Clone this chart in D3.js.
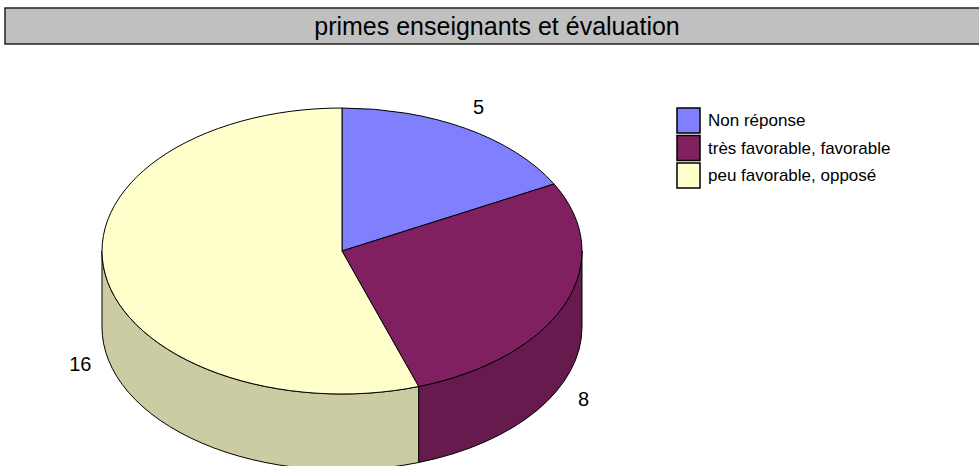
<!DOCTYPE html>
<html>
<head>
<meta charset="utf-8">
<script src="https://cdn.jsdelivr.net/npm/d3@7"></script>
<style>
  body { margin: 0; background: #fff; }
  text { font-family: "Liberation Sans", Arial, sans-serif; }
</style>
</head>
<body>
<div id="graph"></div>
<script>
var titre = "primes enseignants et évaluation";
var categories = ["Non réponse", "très favorable, favorable", "peu favorable, opposé"];
var valeurs = [5, 8, 16];
var couleurs = ["#8080FF", "#802060", "#FFFFCC"];
var couleursCote = ["#6666CC", "#661A4D", "#CCCCA3"];

function dessinCamembert() {
    "use strict";
    var width = 979, height = 466,
        cx = 342, cy = 251, rx = 240, ry = 143, epaisseur = 76,

        svg = d3.select("#graph")
            .append("svg")
                .attr("width", width)
                .attr("height", height),

        couleur = d3.scaleOrdinal().domain(categories).range(couleurs),
        couleurCote = d3.scaleOrdinal().domain(categories).range(couleursCote),

        donnees = categories.map(function (c, i) { return {nom: c, valeur: valeurs[i]}; }),
        parts = d3.pie()
            .sort(null)
            .value(function (d) { return d.valeur; })(donnees);

    function pt(a, dy) {
        return [cx + rx * Math.sin(a), cy - ry * Math.cos(a) + (dy || 0)];
    }

    function dessus(d) {
        var p0 = pt(d.startAngle), p1 = pt(d.endAngle),
            grand = (d.endAngle - d.startAngle) > Math.PI ? 1 : 0;
        return "M" + cx + "," + cy + "L" + p0 + "A" + rx + "," + ry + " 0 " + grand + " 1 " + p1 + "Z";
    }

    function cote(d) {
        var s = Math.max(d.startAngle, Math.PI / 2),
            e = Math.min(d.endAngle, 3 * Math.PI / 2);
        if (s >= e) { return null; }
        return "M" + pt(s) + "A" + rx + "," + ry + " 0 0 1 " + pt(e) +
            "L" + pt(e, epaisseur) + "A" + rx + "," + ry + " 0 0 0 " + pt(s, epaisseur) + "Z";
    }

    // bandeau du titre
    svg.append("rect")
        .attr("x", 5)
        .attr("y", 8)
        .attr("width", 990)
        .attr("height", 36)
        .style("fill", "#C0C0C0")
        .style("stroke", "#222")
        .style("stroke-width", 1.5);
    svg.append("text")
        .attr("x", 497)
        .attr("y", 35)
        .style("text-anchor", "middle")
        .style("font-size", "25px")
        .style("fill", "#000")
        .text(titre);

    // côtés
    svg.selectAll(".cote")
        .data(parts.filter(function (d) { return cote(d) !== null; }))
        .enter()
        .append("path")
        .attr("d", cote)
        .style("fill", function (d) { return couleurCote(d.data.nom); })
        .style("stroke", "#000")
        .style("stroke-width", 1);

    // dessus
    svg.selectAll(".dessus")
        .data(parts)
        .enter()
        .append("path")
        .attr("d", dessus)
        .style("fill", function (d) { return couleur(d.data.nom); })
        .style("stroke", "#000")
        .style("stroke-width", 1)
        .style("stroke-linejoin", "round");

    // étiquettes
    svg.selectAll(".etiquette")
        .data(parts)
        .enter()
        .append("text")
        .attr("x", function (d) {
            var a = (d.startAngle + d.endAngle) / 2,
                demi = 5.5 * String(d.data.valeur).length;
            return cx + (rx + 14) * Math.sin(a) + (Math.sin(a) < 0 ? -demi : demi);
        })
        .attr("y", function (d) {
            var a = (d.startAngle + d.endAngle) / 2,
                y = cy - (ry + 25) * Math.cos(a);
            if (Math.cos(a) < 0) { y += epaisseur + 10; }
            return y + 7;
        })
        .style("text-anchor", "middle")
        .style("font-size", "20px")
        .style("fill", "#000")
        .text(function (d) { return d.data.valeur; });

    // légende
    var legende = svg.selectAll(".legende")
        .data(categories)
        .enter()
        .append("g")
        .attr("transform", function (d, i) { return "translate(677," + (108 + i * 27.5) + ")"; });
    legende.append("rect")
        .attr("width", 23)
        .attr("height", 25)
        .style("fill", function (d) { return couleur(d); })
        .style("stroke", "#000")
        .style("stroke-width", 1.5);
    legende.append("text")
        .attr("x", 31)
        .attr("y", 18)
        .style("font-size", "17px")
        .style("fill", "#000")
        .text(function (d) { return d; });
}

dessinCamembert();
</script>
</body>
</html>
